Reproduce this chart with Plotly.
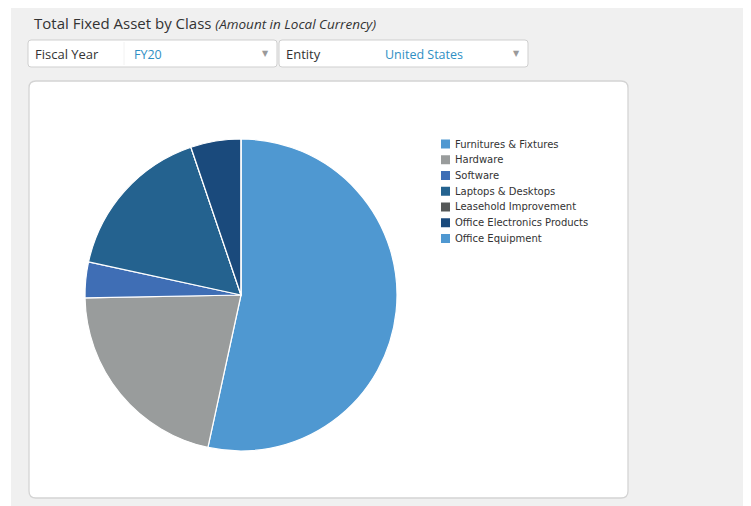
import plotly.graph_objects as go

# Total Fixed Asset by Class - FY20, United States (share of total)
categories = ["Furnitures & Fixtures", "Hardware", "Software", "Laptops & Desktops",
              "Leasehold Improvement", "Office Electronics Products", "Office Equipment"]
values = [53.4, 21.3, 3.7, 16.4, 0, 5.2, 0]
colors = ["#4f98d1", "#999c9c", "#3f6eb5", "#24628f", "#555858", "#1a4a7c", "#4f98d1"]

fiscal_year = "FY20"
entity = "United States"

W, H = 751, 506
OFF = 8  # page body margin pushes the figure 8px right and down


def px(x):
    return (x - OFF) / W


def py(y):
    return 1 - (y - OFF) / H


def rrect(x0, y0, x1, y1, r):
    # rounded rectangle path in paper coords, given pixel corners
    pts = [
        f"M {px(x0 + r)},{py(y0)}",
        f"L {px(x1 - r)},{py(y0)}",
        f"Q {px(x1)},{py(y0)} {px(x1)},{py(y0 + r)}",
        f"L {px(x1)},{py(y1 - r)}",
        f"Q {px(x1)},{py(y1)} {px(x1 - r)},{py(y1)}",
        f"L {px(x0 + r)},{py(y1)}",
        f"Q {px(x0)},{py(y1)} {px(x0)},{py(y1 - r)}",
        f"L {px(x0)},{py(y0 + r)}",
        f"Q {px(x0)},{py(y0)} {px(x0 + r)},{py(y0)}",
        "Z",
    ]
    return " ".join(pts)


fig = go.Figure()

fig.add_trace(go.Pie(
    labels=categories, values=values, sort=False, direction="clockwise",
    rotation=0, textinfo="none", hoverinfo="label+value", showlegend=False,
    marker=dict(colors=colors, line=dict(color="white", width=1.2)),
    domain=dict(x=[px(85), px(397)], y=[py(451), py(139)]),
))

shapes = [
    dict(type="rect", xref="paper", yref="paper", x0=px(11), x1=1, y0=0, y1=py(4),
         fillcolor="#f0f0f0", line_width=0, layer="below"),
    dict(type="path", xref="paper", yref="paper", path=rrect(29, 81, 628, 498, 7),
         fillcolor="white", line=dict(color="#d4d4d4", width=1.3), layer="below"),
    dict(type="path", xref="paper", yref="paper", path=rrect(28, 40, 277, 67, 3),
         fillcolor="white", line=dict(color="#cfcfcf", width=1), layer="below"),
    dict(type="path", xref="paper", yref="paper", path=rrect(279, 40, 528, 67, 3),
         fillcolor="white", line=dict(color="#cfcfcf", width=1), layer="below"),
    dict(type="line", xref="paper", yref="paper", x0=px(124), x1=px(124), y0=py(42), y1=py(65),
         line=dict(color="#f2f2f2", width=1), layer="below"),
]

ann = [
    dict(text="Total Fixed Asset by Class <i style='font-size:13.5px'>(Amount in Local Currency)</i>",
         x=px(32), y=py(23), font=dict(family="Open Sans", size=15, color="#333333")),
    dict(text="Fiscal Year", x=px(33), y=py(54), font=dict(family="Open Sans", size=13, color="#333333")),
    dict(text=fiscal_year, x=px(132), y=py(54), font=dict(family="Open Sans", size=12.5, color="#2f8fc4")),
    dict(text="▼", x=px(260), y=py(53), font=dict(family="DejaVu Sans", size=8, color="#9a9a9a")),
    dict(text="Entity", x=px(284), y=py(54), font=dict(family="Open Sans", size=13, color="#333333")),
    dict(text=entity, x=px(383), y=py(54), font=dict(family="Open Sans", size=12.5, color="#2f8fc4")),
    dict(text="▼", x=px(511), y=py(53), font=dict(family="DejaVu Sans", size=8, color="#9a9a9a")),
]

# legend drawn by hand to get the tight row spacing of the original
row_top, row_gap = 144, 15.75
for i, (name, col) in enumerate(zip(categories, colors)):
    yc = row_top + i * row_gap
    shapes.append(dict(type="rect", xref="paper", yref="paper",
                       x0=px(441), x1=px(450), y0=py(yc + 4.5), y1=py(yc - 4.5),
                       fillcolor=col, line_width=0))
    ann.append(dict(text=name, x=px(453), y=py(yc),
                    font=dict(family="DejaVu Sans", size=10, color="#333333")))

for a in ann:
    a.update(xref="paper", yref="paper", xanchor="left", yanchor="middle", showarrow=False)

fig.update_layout(
    width=W, height=H, margin=dict(l=0, r=0, t=0, b=0),
    paper_bgcolor="white", plot_bgcolor="white",
    shapes=shapes, annotations=ann, showlegend=False,
)

fig.write_html("out.html")
